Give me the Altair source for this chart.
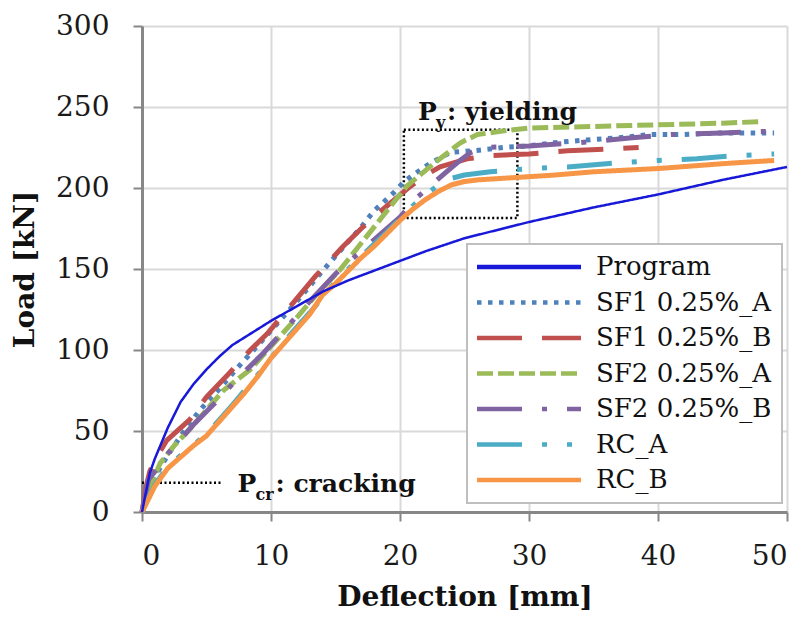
import altair as alt
import pandas as pd

# ---------------- data ----------------
series_names = ["Program", "SF1 0.25%_A", "SF1 0.25%_B", "SF2 0.25%_A",
                "SF2 0.25%_B", "RC_A", "RC_B"]
series_colors = ["#1818D8", "#4F81BD", "#C0504D", "#9BBB59",
                 "#8064A2", "#4BACC6", "#F79646"]
series_dashes = [[1, 0], [4.5, 6.5], [45, 20], [16, 5],
                 [45, 20, 5, 20], [45, 20, 5, 20, 5, 20], [1, 0]]

program_x = [0, 0.3, 0.6, 1, 2, 3, 4, 5, 6, 7, 8, 10, 12, 14, 16, 18, 20, 22, 25, 28, 30, 35, 40, 45, 50]
program_y = [0, 12, 24, 33, 52, 68, 79, 88, 96, 103, 108, 118, 127, 136, 143, 149, 155, 161, 169, 175, 179, 188, 196, 205, 213]

sf1a_x = [0, 0.5, 1, 2, 3, 4.5, 6, 7.4, 9, 10, 12, 13.8, 15, 16.9, 18, 19.5, 20.2, 21, 22.3, 23.9, 25.7, 28, 30, 32, 35, 37, 39.4, 42, 45, 49]
sf1a_y = [0, 15, 22, 35, 47, 63, 76, 89, 103, 112, 130, 147, 158, 175, 186, 197, 203, 208, 215, 222, 223, 225, 226, 228, 230, 231, 233, 233, 234, 234]

sf1b_x = [0, 0.3, 0.6, 1, 1.9, 3.7, 5, 6.8, 8.4, 9.7, 11.5, 13.5, 15.6, 17, 18.4, 20.8, 22, 23.1, 25.2, 27, 30, 33, 36, 38.5]
sf1b_y = [0, 15, 25, 32, 44, 57, 71, 86, 100, 110, 127, 146, 164, 175, 185, 201, 208, 213, 218, 220, 221, 223, 224, 225]

sf2a_x = [0, 0.5, 1.4, 2.5, 3.7, 5, 6.3, 8.4, 10.2, 12, 13.5, 15.3, 17.4, 19, 20.5, 22.6, 24.7, 26, 27.8, 30, 35, 40, 45, 48]
sf2a_y = [0, 13, 30, 41, 51, 63, 75, 88, 104, 120, 134, 149, 170, 186, 201, 215, 228, 233, 235, 237, 238, 239, 240, 241]

sf2b_x = [0, 0.5, 1, 2, 3, 4, 5, 6, 7, 8, 9.4, 11, 13, 15, 17.7, 20, 21.3, 23.6, 24.5, 25.5, 26.4, 30, 34, 38, 41, 45, 48.7]
sf2b_y = [0, 20, 25, 36, 45, 54, 62, 70, 79, 87, 98, 112, 130, 147, 166, 182, 194, 210, 216, 222, 225, 226, 228, 231, 233, 234, 235]

rca_x = [0, 1, 2, 3, 5, 7, 9, 11, 13, 15, 17, 19, 20, 21, 22, 23, 24, 25, 27, 30, 33, 36, 40, 43, 46, 49]
rca_y = [0, 17, 28, 35, 48, 66, 85, 105, 123, 142, 158, 173, 181, 189, 196, 202, 206, 208, 210, 212, 213, 215, 217, 218, 220, 221]

rcb_x = [0, 0.5, 1, 2, 3, 4, 5, 6, 7, 8, 9, 10, 11, 12, 13, 14, 15, 16, 17, 18, 19, 20, 21, 22, 23, 24, 25, 26, 28, 30, 32, 35, 40, 45, 49]
rcb_y = [0, 8, 16, 27, 34, 41, 47, 56, 65, 74, 84, 95, 104, 113, 122, 134, 141, 149, 157, 164, 172, 180, 187, 193, 198, 202, 204, 205, 206, 207, 208, 210, 212, 215, 217]

x_ticks = [0, 10, 20, 30, 40, 50]
y_ticks = [0, 50, 100, 150, 200, 250, 300]

# annotations
crack_line_x = [0, 6.2]
crack_line_y = [18, 18]
crack_label = {"x": 7.4, "y": 12.5, "sub": "cr", "rest": ": cracking"}
yield_box = {"x": 20.3, "x2": 29.1, "y": 181.5, "y2": 236}
yield_label = {"x": 21.4, "y": 242, "sub": "y", "rest": ": yielding"}


def frame(name, xs, ys):
    return pd.DataFrame({"series": name, "x": xs, "y": ys})


thick_df = pd.concat([
    frame("SF1 0.25%_A", sf1a_x, sf1a_y),
    frame("SF1 0.25%_B", sf1b_x, sf1b_y),
    frame("SF2 0.25%_A", sf2a_x, sf2a_y),
    frame("SF2 0.25%_B", sf2b_x, sf2b_y),
    frame("RC_A", rca_x, rca_y),
    frame("RC_B", rcb_x, rcb_y),
], ignore_index=True)
thin_df = frame("Program", program_x, program_y)

crack_df = pd.DataFrame({"x": [crack_line_x[0]], "x2": [crack_line_x[1]], "y": [crack_line_y[0]]})
box_df = pd.DataFrame([yield_box])
label_df = pd.DataFrame([crack_label, yield_label])

# ---------------- chart ----------------
x_enc = alt.X("x:Q", scale=alt.Scale(domain=[0, 50], nice=False),
              axis=alt.Axis(values=x_ticks, title="Deflection [mm]", format="d"))
y_enc = alt.Y("y:Q", scale=alt.Scale(domain=[0, 300], nice=False),
              axis=alt.Axis(values=y_ticks, title="Load [kN]", format="d"))
color_enc = alt.Color("series:N", scale=alt.Scale(domain=series_names, range=series_colors),
                      title=None)
dash_enc = alt.StrokeDash("series:N", scale=alt.Scale(domain=series_names, range=series_dashes),
                          title=None)

thick = alt.Chart(thick_df).mark_line(strokeWidth=5, strokeJoin="round").encode(
    x=x_enc, y=y_enc, color=color_enc, strokeDash=dash_enc)
thin = alt.Chart(thin_df).mark_line(strokeWidth=2.5, strokeJoin="round").encode(
    x=x_enc, y=y_enc, color=color_enc, strokeDash=dash_enc)

crack_rule = alt.Chart(crack_df).mark_rule(color="black", strokeWidth=2.5, strokeDash=[2, 2.5]).encode(
    x="x:Q", x2="x2:Q", y="y:Q")
box = alt.Chart(box_df).mark_rect(fillOpacity=0, stroke="black", strokeWidth=2.5,
                                  strokeDash=[2, 2.5]).encode(
    x="x:Q", x2="x2:Q", y="y:Q", y2="y2:Q")

text_style = dict(font="DejaVu Serif", fontWeight="bold", color="#111111",
                  align="left", baseline="alphabetic")
p_text = alt.Chart(label_df).mark_text(fontSize=25, **text_style).encode(
    x="x:Q", y="y:Q", text=alt.value("P"))
sub_text = alt.Chart(label_df).mark_text(fontSize=16, dx=18, dy=8, **text_style).encode(
    x="x:Q", y="y:Q", text="sub:N")
rest_text_cr = alt.Chart(label_df.iloc[[0]]).mark_text(fontSize=25, dx=38, **text_style).encode(
    x="x:Q", y="y:Q", text="rest:N")
rest_text_y = alt.Chart(label_df.iloc[[1]]).mark_text(fontSize=25, dx=29, **text_style).encode(
    x="x:Q", y="y:Q", text="rest:N")

chart = alt.layer(box, crack_rule, thick, thin, p_text, sub_text, rest_text_cr, rest_text_y).properties(
    width=645, height=486,
    autosize=alt.AutoSizeParams(type="none"),
    padding={"left": 134, "top": 18, "right": 10, "bottom": 101},
    background="white",
).configure_view(strokeWidth=0).configure_axis(
    labelFont="DejaVu Serif", labelFontSize=28, labelColor="#1a1a1a",
    titleFont="DejaVu Serif", titleFontSize=28, titleFontWeight="bold", titleColor="#111111",
    gridColor="#D9D9D9", gridWidth=2,
    domainColor="#878787", domainWidth=3,
    tickColor="#878787", tickWidth=2, tickSize=9,
).configure_axisX(labelPadding=21, titlePadding=13).configure_axisY(
    labelPadding=24, titlePadding=16
).configure_legend(
    orient="none", legendX=325, legendY=218,
    fillColor="white", strokeColor="#BFBFBF", strokeWidth=2,
    padding=10, rowPadding=9.5,
    labelFont="DejaVu Serif", labelFontSize=26, labelColor="#111111",
    labelLimit=300, labelOffset=54,
    symbolType="M-5.2,0H5.2", symbolSize=400, symbolOffset=39, symbolStrokeWidth=4.5,
)

chart.save("out.html", embed_options={"renderer": "svg", "actions": False})
